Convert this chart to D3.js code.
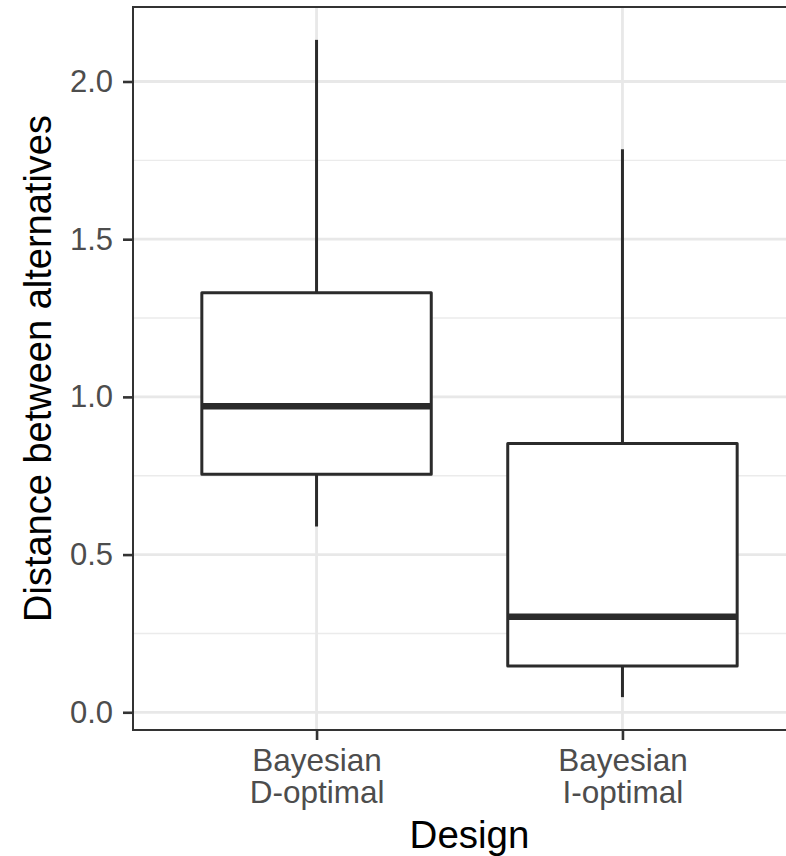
<!DOCTYPE html>
<html>
<head>
<meta charset="utf-8">
<script src="https://cdn.jsdelivr.net/npm/d3@7"></script>
<style>
  html, body { margin: 0; padding: 0; background: #fff; }
  svg { display: block; }
  text { font-family: "Liberation Sans", Arial, Helvetica, sans-serif; }
</style>
</head>
<body>
<svg id="chart" width="786" height="856"></svg>
<script>
// Box-plot summaries per design
const designs = ["Bayesian\nD-optimal", "Bayesian\nI-optimal"];
const lowerWhisker = [0.589, 0.048];
const q1 = [0.755, 0.147];
const median = [0.970, 0.303];
const q3 = [1.330, 0.852];
const upperWhisker = [2.132, 1.785];

const yTicks = [0.0, 0.5, 1.0, 1.5, 2.0];
const yMinor = [0.25, 0.75, 1.25, 1.75];
const xTitle = "Design";
const yTitle = "Distance between alternatives";

const boxes = designs.map((d, i) => ({
  design: d, lo: lowerWhisker[i], q1: q1[i], med: median[i], q3: q3[i], hi: upperWhisker[i]
}));

const svg = d3.select("#chart");
const panel = { left: 133, top: 7, right: 806, bottom: 730 };

// Continuous y with 5% padding around data range
const yMin = d3.min(lowerWhisker), yMax = d3.max(upperWhisker);
const pad = (yMax - yMin) * 0.05;
const y = d3.scaleLinear().domain([yMin - pad, yMax + pad]).range([panel.bottom, panel.top]);

// Discrete x with 0.6 units of expansion on each side
const x = d3.scalePoint().domain(designs).range([panel.left, panel.right]).padding(0.6);
const step = x.step();
const boxW = step * 0.75;

const grid = svg.append("g");
grid.selectAll("line.minor").data(yMinor).join("line")
  .attr("x1", panel.left).attr("x2", panel.right)
  .attr("y1", d => y(d)).attr("y2", d => y(d))
  .attr("stroke", "#ebebeb").attr("stroke-width", 1.4);
grid.selectAll("line.majorY").data(yTicks).join("line")
  .attr("x1", panel.left).attr("x2", panel.right)
  .attr("y1", d => y(d)).attr("y2", d => y(d))
  .attr("stroke", "#e8e8e8").attr("stroke-width", 2.8);
grid.selectAll("line.majorX").data(designs).join("line")
  .attr("x1", d => x(d)).attr("x2", d => x(d))
  .attr("y1", panel.top).attr("y2", panel.bottom)
  .attr("stroke", "#e8e8e8").attr("stroke-width", 2.8);

// Boxes
const g = svg.append("g");
const bx = g.selectAll("g.box").data(boxes).join("g");
bx.append("line")
  .attr("x1", d => x(d.design)).attr("x2", d => x(d.design))
  .attr("y1", d => y(d.hi)).attr("y2", d => y(d.q3))
  .attr("stroke", "#2b2b2b").attr("stroke-width", 3);
bx.append("line")
  .attr("x1", d => x(d.design)).attr("x2", d => x(d.design))
  .attr("y1", d => y(d.q1)).attr("y2", d => y(d.lo))
  .attr("stroke", "#2b2b2b").attr("stroke-width", 3);
bx.append("rect")
  .attr("x", d => x(d.design) - boxW / 2).attr("width", boxW)
  .attr("y", d => y(d.q3)).attr("height", d => y(d.q1) - y(d.q3))
  .attr("fill", "#fff").attr("stroke", "#2b2b2b").attr("stroke-width", 3)
  .attr("stroke-linejoin", "round");
bx.append("line")
  .attr("x1", d => x(d.design) - boxW / 2).attr("x2", d => x(d.design) + boxW / 2)
  .attr("y1", d => y(d.med)).attr("y2", d => y(d.med))
  .attr("stroke", "#2b2b2b").attr("stroke-width", 6.5);

// Panel border
svg.append("rect")
  .attr("x", panel.left).attr("y", panel.top)
  .attr("width", panel.right - panel.left).attr("height", panel.bottom - panel.top)
  .attr("fill", "none").attr("stroke", "#333333").attr("stroke-width", 2);

// Y axis
const yAxis = svg.append("g").attr("transform", `translate(${panel.left},0)`)
  .call(d3.axisLeft(y).tickValues(yTicks).tickFormat(d3.format(".1f")).tickSize(10).tickPadding(10));
yAxis.select(".domain").remove();
yAxis.selectAll(".tick line").attr("stroke", "#333333").attr("stroke-width", 2.6);
yAxis.selectAll(".tick text").attr("fill", "#4d4d4d").attr("font-size", 31)
  .attr("font-family", "Liberation Sans, Arial, sans-serif");

// X axis
const xAxis = svg.append("g").attr("transform", `translate(0,${panel.bottom})`)
  .call(d3.axisBottom(x).tickSize(10).tickFormat(""));
xAxis.select(".domain").remove();
xAxis.selectAll(".tick line").attr("stroke", "#333333").attr("stroke-width", 2.6);
xAxis.selectAll(".tick").each(function(d) {
  const t = d3.select(this).append("text")
    .attr("fill", "#4d4d4d").attr("font-size", 31.5).attr("text-anchor", "middle");
  d.split("\n").forEach((line, i) => {
    t.append("tspan").attr("x", 0).attr("y", 41 + i * 32).text(line);
  });
});

// Axis titles
svg.append("text")
  .attr("x", (panel.left + panel.right) / 2).attr("y", 848)
  .attr("text-anchor", "middle").attr("font-size", 38.5).attr("fill", "#000")
  .text(xTitle);
svg.append("text")
  .attr("transform", `translate(51,${(panel.top + panel.bottom) / 2}) rotate(-90)`)
  .attr("text-anchor", "middle").attr("font-size", 38).attr("fill", "#000")
  .text(yTitle);
</script>
</body>
</html>
